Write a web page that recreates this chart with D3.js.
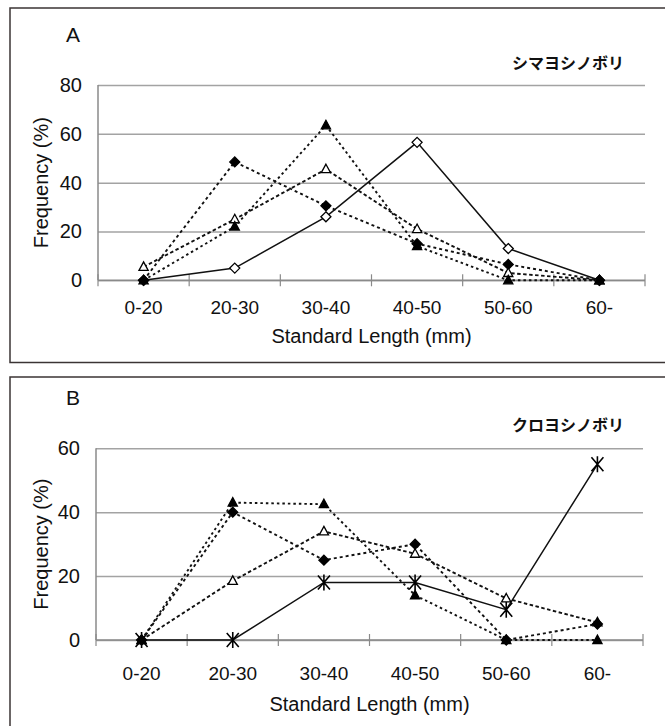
<!DOCTYPE html>
<html>
<head>
<meta charset="utf-8">
<script src="https://cdn.jsdelivr.net/npm/d3@7"></script>
<style>
  body { margin: 0; background: #fff; }
  text { font-family: "Liberation Sans", Arial, sans-serif; fill: #111; }
  .jp { font-family: "Noto Sans CJK JP", sans-serif; font-weight: 700; }
</style>
</head>
<body>
<div id="chart"></div>
<script>
var categories = ['0-20', '20-30', '30-40', '40-50', '50-60', '60-']
var aTicks = [0, 20, 40, 60, 80]
var bTicks = [0, 20, 40, 60]

// panel A (シマヨシノボリ)
var aOpenDiamond    = [0, 5, 26, 56.5, 13, 0]
var aFilledDiamond  = [0, 48.5, 30.5, 15, 6.5, 0]
var aFilledTriangle = [0, 22, 63.5, 14, 0, 0]
var aOpenTriangle   = [5.5, 25, 45.5, 21, 3, 0]

// panel B (クロヨシノボリ)
var bStar           = [0, 0, 18, 18, 9.5, 55]
var bFilledDiamond  = [0, 40, 25, 30, 0, 5]
var bFilledTriangle = [0, 43, 42.5, 14, 0, 0]
var bOpenTriangle   = [0, 18.5, 34, 27, 13, 5.5]

var w = 665
var h = 726

var svg = d3.select('#chart').append('svg')
  .attr('width', w)
  .attr('height', h)

makePanel(svg, {
  letter: 'A', name: 'シマヨシノボリ',
  frameTop: 8, frameBottom: 362.5,
  left: 98, right: 645, top: 85, bottom: 280.3,
  max: 80, ticks: aTicks, labelGap: 20, titleY: 343, letterY: 42, nameY: 69,
  series: [
    { values: aOpenDiamond, marker: 'openDiamond', dash: null },
    { values: aFilledDiamond, marker: 'filledDiamond', dash: '3,3' },
    { values: aOpenTriangle, marker: 'openTriangle', dash: '3.5,2.5' },
    { values: aFilledTriangle, marker: 'filledTriangle', dash: '2.5,3' }
  ]
})

makePanel(svg, {
  letter: 'B', name: 'クロヨシノボリ',
  frameTop: 377, frameBottom: 760,
  left: 96, right: 643, top: 448.3, bottom: 640,
  max: 60, ticks: bTicks, labelGap: 27, titleY: 711, letterY: 405, nameY: 431,
  series: [
    { values: bStar, marker: 'star', dash: null },
    { values: bOpenTriangle, marker: 'openTriangle', dash: '3.5,2.5' },
    { values: bFilledDiamond, marker: 'filledDiamond', dash: '3,3' },
    { values: bFilledTriangle, marker: 'filledTriangle', dash: '2.5,3' }
  ]
})

function makePanel(svg, p) {
  var g = svg.append('g')

  g.append('rect')
    .attr('x', 10)
    .attr('y', p.frameTop)
    .attr('width', 700)
    .attr('height', p.frameBottom - p.frameTop)
    .attr('fill', 'none')
    .attr('stroke', '#3b3434')
    .attr('stroke-width', 1.5)

  var x = d3.scaleBand().domain(categories).range([p.left, p.right])
  var y = d3.scaleLinear().domain([0, p.max]).range([p.bottom, p.top])

  // gridlines + y labels
  var yAxis = g.append('g')
    .attr('transform', 'translate(' + p.left + ',0)')
    .call(d3.axisLeft(y).tickValues(p.ticks).tickSize(-(p.right - p.left)).tickPadding(16))
  yAxis.select('.domain').remove()
  yAxis.selectAll('line').attr('stroke', '#a3a3a3').attr('stroke-width', 1.5)
  yAxis.selectAll('text')
    .attr('font-size', 20)
    .attr('font-family', '"Liberation Sans", Arial, sans-serif')
    .attr('fill', '#111')

  // left axis line
  g.append('line')
    .attr('x1', p.left).attr('x2', p.left)
    .attr('y1', p.top).attr('y2', p.bottom)
    .attr('stroke', '#8a8a8a')
    .attr('stroke-width', 1.5)

  // x axis line with cross ticks on band edges
  g.append('line')
    .attr('x1', p.left).attr('x2', p.right)
    .attr('y1', p.bottom).attr('y2', p.bottom)
    .attr('stroke', '#8a8a8a')
    .attr('stroke-width', 1.5)

  var edges = categories.map(function (c) { return x(c) }).concat([p.right])
  g.selectAll('.xtick').data(edges).enter().append('line')
    .attr('class', 'xtick')
    .attr('x1', function (d) { return d }).attr('x2', function (d) { return d })
    .attr('y1', p.bottom - 6).attr('y2', p.bottom + 6)
    .attr('stroke', '#8a8a8a')
    .attr('stroke-width', 1.2)

  var xAxis = g.append('g')
    .attr('transform', 'translate(0,' + p.bottom + ')')
    .call(d3.axisBottom(x).tickSize(0).tickPadding(p.labelGap))
  xAxis.select('.domain').remove()
  xAxis.selectAll('text')
    .attr('font-size', 19)
    .attr('font-family', '"Liberation Sans", Arial, sans-serif')
    .attr('fill', '#111')

  // titles
  g.append('text')
    .attr('x', (p.left + p.right) / 2)
    .attr('y', p.titleY)
    .attr('text-anchor', 'middle')
    .attr('font-size', 20)
    .text('Standard Length (mm)')

  g.append('text')
    .attr('transform', 'translate(48,' + ((p.top + p.bottom) / 2) + ') rotate(-90)')
    .attr('text-anchor', 'middle')
    .attr('font-size', 20)
    .text('Frequency (%)')

  g.append('text')
    .attr('x', 66)
    .attr('y', p.letterY)
    .attr('font-size', 21)
    .text(p.letter)

  g.append('text')
    .attr('class', 'jp')
    .attr('x', 624)
    .attr('y', p.nameY)
    .attr('text-anchor', 'end')
    .attr('font-size', 16)
    .text(p.name)

  var line = d3.line()
    .x(function (d, i) { return x(categories[i]) + x.bandwidth() / 2 })
    .y(function (d) { return y(d) })

  p.series.forEach(function (s) {
    g.append('path')
      .datum(s.values)
      .attr('d', line)
      .attr('fill', 'none')
      .attr('stroke', '#111')
      .attr('stroke-width', s.dash ? 1.9 : 1.5)
      .attr('stroke-dasharray', s.dash)

    g.selectAll('.m' + s.marker).data(s.values).enter().append('path')
      .attr('transform', function (d, i) {
        return 'translate(' + (x(categories[i]) + x.bandwidth() / 2) + ',' + y(d) + ')'
      })
      .attr('d', markerPath(s.marker))
      .attr('fill', s.marker.indexOf('filled') == 0 ? '#000' : (s.marker == 'star' ? 'none' : '#fff'))
      .attr('stroke', '#000')
      .attr('stroke-width', s.marker == 'star' ? 1.6 : 1.3)
  })
}

function markerPath(type) {
  if (type == 'openDiamond' || type == 'filledDiamond') return 'M0,-5L5,0L0,5L-5,0Z'
  if (type == 'openTriangle' || type == 'filledTriangle') return 'M0,-5L4.6,3.5L-4.6,3.5Z'
  return 'M-6,-7L6,7M6,-7L-6,7M0,-8L0,8'
}
</script>
</body>
</html>
